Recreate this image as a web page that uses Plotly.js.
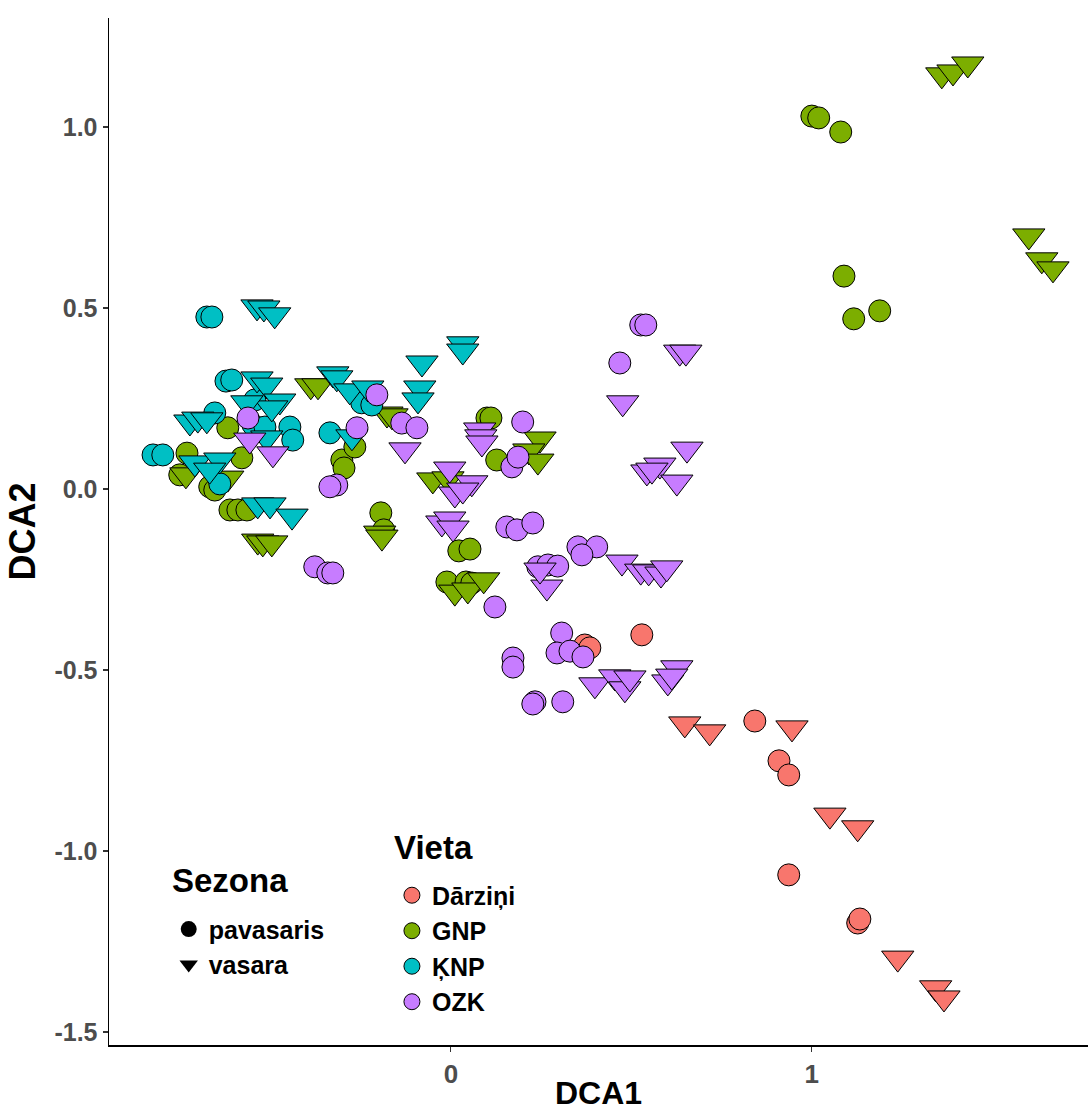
<!DOCTYPE html>
<html>
<head>
<meta charset="utf-8">
<script src="https://cdn.plot.ly/plotly-3.0.1.min.js"></script>
<style>html,body{margin:0;padding:0;background:#fff;}#chart{width:1088px;height:1111px;}</style>
</head>
<body>
<div id="chart"></div>
<script>
// ---- Data (DCA1, DCA2) ----
const vietaNames = ["Dārziņi", "GNP", "ĶNP", "OZK"];
const sezonaNames = ["pavasaris", "vasara"];
const legendTitles = ["Sezona", "Vieta"];
const axisTitles = ["DCA1", "DCA2"];

const darzPavX = [0.371, 0.385, 0.529, 0.842, 0.909, 0.936, 0.936, 1.127, 1.133];
const darzPavY = [-0.431, -0.439, -0.403, -0.641, -0.751, -0.790, -1.066, -1.199, -1.188];
const darzVasX = [0.648, 0.717, 0.945, 1.050, 1.127, 1.238, 1.343, 1.366];
const darzVasY = [-0.649, -0.671, -0.660, -0.901, -0.936, -1.296, -1.378, -1.406];

const gnpPavX = [1.000, 1.019, 1.080, 1.089, 1.116, 1.188, 0.100, 0.111, 0.127, -0.194, -0.186, 0.022, 0.053, -0.011, 0.042, 0.058, -0.618, -0.731, -0.579, -0.751, -0.668, -0.654, -0.612, -0.590, -0.565, -0.302, -0.296, -0.266];
const gnpPavY = [1.030, 1.025, 0.986, 0.588, 0.470, 0.492, 0.196, 0.196, 0.080, -0.066, -0.113, -0.171, -0.166, -0.257, -0.257, -0.260, 0.169, 0.099, 0.086, 0.039, 0.006, -0.003, -0.058, -0.058, -0.058, 0.080, 0.058, 0.116];
const gnpVasX = [1.360, 1.391, 1.432, 1.601, 1.637, 1.668, -0.388, -0.368, -0.177, -0.163, -0.050, -0.008, -0.197, -0.191, 0.247, 0.216, 0.241, 0.011, 0.047, 0.091, -0.535, -0.521, -0.496, -0.734, -0.618];
const gnpVasY = [1.144, 1.152, 1.174, 0.699, 0.633, 0.608, 0.285, 0.285, 0.207, 0.202, 0.025, 0.028, -0.122, -0.133, 0.138, 0.105, 0.077, -0.285, -0.279, -0.251, -0.144, -0.149, -0.149, 0.039, 0.030];

const knpPavX = [-0.676, -0.662, -0.623, -0.607, -0.654, -0.543, -0.548, -0.515, -0.446, -0.438, -0.825, -0.798, -0.640, -0.335, -0.247, -0.219];
const knpPavY = [0.475, 0.475, 0.298, 0.301, 0.210, 0.246, 0.177, 0.171, 0.171, 0.135, 0.094, 0.094, 0.014, 0.155, 0.238, 0.232];
const knpVasX = [-0.537, -0.518, -0.488, -0.537, -0.510, -0.474, -0.496, -0.565, -0.723, -0.701, -0.676, -0.510, -0.709, -0.640, -0.668, -0.535, -0.501, -0.440, -0.327, -0.316, -0.280, -0.230, -0.274, -0.080, -0.086, -0.091, 0.033, 0.033];
const knpVasY = [0.503, 0.500, 0.481, 0.304, 0.287, 0.243, 0.224, 0.238, 0.185, 0.193, 0.191, 0.141, 0.072, 0.080, 0.052, -0.044, -0.044, -0.075, 0.318, 0.307, 0.271, 0.279, 0.144, 0.348, 0.279, 0.246, 0.401, 0.381];

const ozkPavX = [0.526, 0.540, 0.468, 0.199, 0.169, 0.186, -0.136, -0.094, -0.260, -0.205, -0.562, -0.316, -0.335, -0.377, -0.341, -0.327, 0.155, 0.183, 0.227, 0.122, 0.241, 0.269, 0.296, 0.352, 0.404, 0.363, 0.307, 0.294, 0.330, 0.366, 0.172, 0.172, 0.233, 0.227, 0.310];
const ozkPavY = [0.453, 0.453, 0.348, 0.185, 0.061, 0.088, 0.182, 0.169, 0.169, 0.260, 0.196, 0.011, 0.006, -0.215, -0.232, -0.232, -0.105, -0.113, -0.094, -0.326, -0.215, -0.210, -0.213, -0.160, -0.160, -0.182, -0.398, -0.453, -0.448, -0.464, -0.467, -0.492, -0.588, -0.594, -0.588];
const ozkVasX = [0.634, 0.651, 0.476, 0.654, 0.579, 0.543, 0.557, 0.626, 0.080, 0.083, 0.086, -0.127, -0.493, -0.557, -0.003, 0.058, 0.011, 0.033, -0.025, -0.003, 0.006, 0.266, 0.247, 0.474, 0.526, 0.548, 0.582, 0.598, 0.399, 0.454, 0.482, 0.496, 0.626, 0.601, 0.612];
const ozkVasY = [0.378, 0.378, 0.238, 0.110, 0.066, 0.047, 0.052, 0.019, 0.163, 0.144, 0.127, 0.108, 0.097, 0.135, 0.055, 0.017, -0.014, -0.003, -0.094, -0.083, -0.108, -0.271, -0.224, -0.202, -0.227, -0.229, -0.235, -0.218, -0.541, -0.519, -0.552, -0.522, -0.494, -0.533, -0.517];

const xTickVals = [0, 1];
const xTickText = ["0", "1"];
const yTickVals = [-1.5, -1.0, -0.5, 0.0, 0.5, 1.0];
const yTickText = ["-1.5", "-1.0", "-0.5", "0.0", "0.5", "1.0"];

// ---- Styles ----
const colors = ["#F8766D", "#7CAE00", "#00BFC4", "#C77CFF"];
const symbols = ["circle", "triangle-down"];
const sizes = [22, 28];
const FONT = "Liberation Sans, Arial, sans-serif";

const groups = [
  [[darzPavX, darzPavY], [darzVasX, darzVasY]],
  [[gnpPavX, gnpPavY], [gnpVasX, gnpVasY]],
  [[knpPavX, knpPavY], [knpVasX, knpVasY]],
  [[ozkPavX, ozkPavY], [ozkVasX, ozkVasY]]
];

const traces = [];
groups.forEach((g, vi) => {
  g.forEach((s, si) => {
    traces.push({
      type: "scatter", mode: "markers",
      x: s[0], y: s[1],
      showlegend: false, hoverinfo: "skip",
      marker: { symbol: symbols[si], size: sizes[si], color: colors[vi], line: { color: "#000", width: 1 } }
    });
  });
});

// legend entries: Sezona
sezonaNames.forEach((n, si) => {
  traces.push({
    type: "scatter", mode: "markers", x: [null], y: [null], name: n,
    legend: "legend", showlegend: true,
    marker: { symbol: symbols[si], size: 16, color: "#000", line: { color: "#000", width: 0 } }
  });
});
// legend entries: Vieta
vietaNames.forEach((n, vi) => {
  traces.push({
    type: "scatter", mode: "markers", x: [null], y: [null], name: n,
    legend: "legend2", showlegend: true,
    marker: { symbol: "circle", size: 16, color: colors[vi], line: { color: "#000", width: 1 } }
  });
});

const legendCommon = {
  bgcolor: "rgba(0,0,0,0)", borderwidth: 0, orientation: "v",
  xanchor: "left", yanchor: "top", tracegroupgap: 0, itemsizing: "trace",
  font: { family: FONT, size: 25, color: "#000", weight: "bold" }
};

const titleFont = { family: FONT, size: 33, color: "#000", weight: "bold" };

const layout = {
  width: 1088, height: 1111,
  margin: { l: 109, r: 0, t: 18, b: 66 },
  paper_bgcolor: "#fff", plot_bgcolor: "#fff",
  font: { family: FONT },
  xaxis: {
    range: [-0.947, 1.765], tickvals: xTickVals, ticktext: xTickText,
    showgrid: false, zeroline: false, showline: true, linecolor: "#000", linewidth: 1.5,
    ticks: "outside", ticklen: 5, tickwidth: 1.2, tickcolor: "#333",
    tickfont: { family: FONT, size: 26, color: "#4D4D4D", weight: "bold" },
    title: { text: axisTitles[0], font: { family: FONT, size: 32, color: "#000", weight: "bold" }, standoff: 2 }
  },
  yaxis: {
    range: [-1.536, 1.301], tickvals: yTickVals, ticktext: yTickText,
    showgrid: false, zeroline: false, showline: true, linecolor: "#000", linewidth: 1.5,
    ticks: "outside", ticklen: 5, tickwidth: 1.2, tickcolor: "#333",
    tickfont: { family: FONT, size: 25, color: "#4D4D4D", weight: "bold" },
    title: { text: axisTitles[1], font: { family: FONT, size: 36, color: "#000", weight: "bold" }, standoff: 8 }
  },
  legend: Object.assign({}, legendCommon, { x: 0.061, y: 0.135 }),
  legend2: Object.assign({}, legendCommon, { x: 0.289, y: 0.168 }),
  annotations: [
    { xref: "paper", yref: "paper", x: 0.062, y: 0.160, xanchor: "left", yanchor: "middle",
      text: legendTitles[0], showarrow: false, font: titleFont },
    { xref: "paper", yref: "paper", x: 0.289, y: 0.192, xanchor: "left", yanchor: "middle",
      text: legendTitles[1], showarrow: false, font: titleFont }
  ]
};

Plotly.newPlot("chart", traces, layout, { displayModeBar: false, staticPlot: true });
</script>
</body>
</html>
